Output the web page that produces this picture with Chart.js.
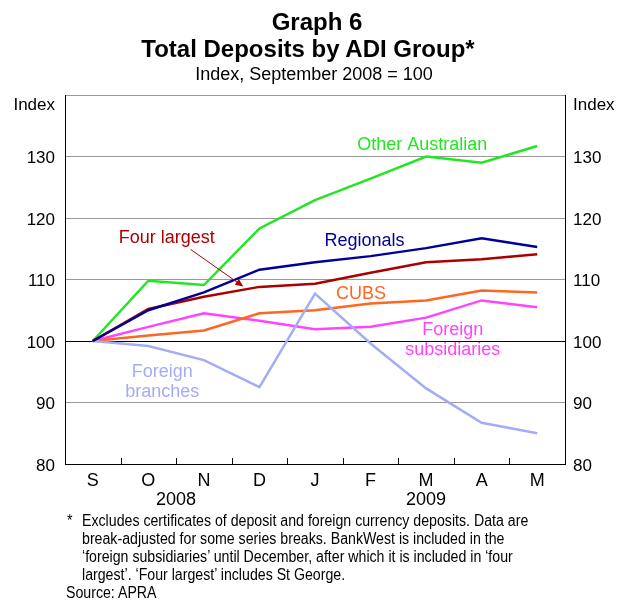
<!DOCTYPE html>
<html>
<head>
<meta charset="utf-8">
<script src="https://cdn.jsdelivr.net/npm/chart.js@4.4.1/dist/chart.umd.min.js"></script>
<style>
  html, body { margin: 0; padding: 0; background: #fff; }
  #wrap { position: relative; width: 624px; height: 600px; overflow: hidden;
          font-family: "Liberation Sans", Arial, sans-serif; color: #000; }
  #chart { position: absolute; left: 0; top: 0; }
  .t { position: absolute; white-space: nowrap; }
  .title { font-size: 24px; font-weight: bold; line-height: 24px; width: 400px; text-align: center; }
  .sub { font-size: 18px; line-height: 18px; width: 400px; text-align: center; }
  .note { font-size: 16px; line-height: 18px; transform: scaleX(0.885); transform-origin: left top; }
</style>
</head>
<body>
<div id="wrap">
  <canvas id="chart" width="624" height="600"></canvas>
  <div class="t title" style="left:117px; top:10px;">Graph 6</div>
  <div class="t title" style="left:108px; top:37px;">Total Deposits by ADI Group*</div>
  <div class="t sub" style="left:114px; top:65px;">Index, September 2008 = 100</div>
  <div class="t note" style="left:67px; top:512px;">*</div>
  <div class="t note" style="left:82px; top:512px;">Excludes certificates of deposit and foreign currency deposits. Data are<br>break-adjusted for some series breaks. BankWest is included in the<br>‘foreign subsidiaries’ until December, after which it is included in ‘four<br>largest’. ‘Four largest’ includes St George.</div>
  <div class="t note" style="left:66px; top:584px;">Source: APRA</div>
</div>
<script>
// Index, September 2008 = 100
const months = ['S', 'O', 'N', 'D', 'J', 'F', 'M', 'A', 'M'];
const years = ['2008', '2009'];
const yTicks = [80, 90, 100, 110, 120, 130];

const otherAustralian = [100, 109.8, 109.1, 118.3, 122.9, 126.4, 130.0, 129.0, 131.7];
const regionals = [100, 105.0, 107.9, 111.6, 112.8, 113.8, 115.1, 116.7, 115.3];
const fourLargest = [100, 105.2, 107.2, 108.8, 109.3, 111.1, 112.8, 113.3, 114.1];
const cubs = [100, 100.9, 101.7, 104.5, 105.0, 106.1, 106.6, 108.2, 107.9];
const foreignSubsidiaries = [100, 102.3, 104.5, 103.3, 101.9, 102.3, 103.8, 106.6, 105.5];
const foreignBranches = [100, 99.2, 96.9, 92.5, 107.7, 99.6, 92.3, 86.7, 85.0];

const GREEN = '#22e622', NAVY = '#000099', DARKRED = '#aa0000',
      ORANGE = '#ff6622', MAGENTA = '#ff44ff', LAVENDER = '#a4acf6';

// label spots in chart units: x = category index, y = index value (baseline)
const seriesLabels = [
  { text: ['Other Australian'], x: 5.93, y: 131.05, color: GREEN },
  { text: ['Regionals'], x: 4.89, y: 115.45, color: NAVY },
  { text: ['Four largest'], x: 1.33, y: 115.9, color: DARKRED },
  { text: ['CUBS'], x: 4.83, y: 106.8, color: ORANGE },
  { text: ['Foreign', 'subsidiaries'], x: 6.48, y: 100.98, color: MAGENTA },
  { text: ['Foreign', 'branches'], x: 1.25, y: 94.15, color: LAVENDER }
];
const arrow = { from: [1.76, 114.9], to: [2.71, 108.85], color: DARKRED };

function line(label, data, color) {
  return { label: label, data: data, borderColor: color, backgroundColor: color,
           borderWidth: 2.5, pointRadius: 0, tension: 0, fill: false };
}

const extras = {
  id: 'extras',
  afterDatasetsDraw(chart) {
    const { ctx, chartArea, scales } = chart;
    const x = scales.x, y = scales.y;
    ctx.save();

    // inward ticks between months
    ctx.strokeStyle = '#000';
    ctx.lineWidth = 1;
    for (let i = 0; i < months.length - 1; i++) {
      const px = Math.round(x.getPixelForValue(i + 0.5)) + 0.5;
      ctx.beginPath();
      ctx.moveTo(px, chartArea.bottom);
      ctx.lineTo(px, chartArea.bottom - 6);
      ctx.stroke();
    }

    // series labels
    ctx.font = '18px "Liberation Sans", Arial, sans-serif';
    ctx.textAlign = 'center';
    ctx.textBaseline = 'alphabetic';
    seriesLabels.forEach(l => {
      ctx.fillStyle = l.color;
      const px = x.getPixelForValue(l.x);
      const py = y.getPixelForValue(l.y);
      l.text.forEach((t, k) => ctx.fillText(t, px, py + k * 20.5));
    });

    // arrow for four largest
    const x1 = x.getPixelForValue(arrow.from[0]), y1 = y.getPixelForValue(arrow.from[1]);
    const x2 = x.getPixelForValue(arrow.to[0]), y2 = y.getPixelForValue(arrow.to[1]);
    const ang = Math.atan2(y2 - y1, x2 - x1);
    ctx.strokeStyle = arrow.color;
    ctx.fillStyle = arrow.color;
    ctx.lineWidth = 1;
    ctx.beginPath();
    ctx.moveTo(x1, y1);
    ctx.lineTo(x2 - 6 * Math.cos(ang), y2 - 6 * Math.sin(ang));
    ctx.stroke();
    ctx.beginPath();
    ctx.moveTo(x2, y2);
    ctx.lineTo(x2 - 8 * Math.cos(ang) + 3.5 * Math.sin(ang), y2 - 8 * Math.sin(ang) - 3.5 * Math.cos(ang));
    ctx.lineTo(x2 - 8 * Math.cos(ang) - 3.5 * Math.sin(ang), y2 - 8 * Math.sin(ang) + 3.5 * Math.cos(ang));
    ctx.closePath();
    ctx.fill();

    // axis unit labels and years
    ctx.fillStyle = '#000';
    ctx.font = '17px "Liberation Sans", Arial, sans-serif';
    ctx.textAlign = 'right';
    ctx.fillText('Index', chartArea.left - 10, chartArea.top + 15);
    ctx.textAlign = 'left';
    ctx.fillText('Index', chartArea.right + 8, chartArea.top + 15);
    ctx.font = '18px "Liberation Sans", Arial, sans-serif';
    ctx.textAlign = 'center';
    ctx.fillText(years[0], x.getPixelForValue(1.5), chartArea.bottom + 41);
    ctx.fillText(years[1], x.getPixelForValue(6), chartArea.bottom + 41);
    ctx.restore();
  }
};

const tickFont = { family: '"Liberation Sans", Arial, sans-serif', size: 17 };
function yLabel(v) { return yTicks.includes(v) ? v : ''; }

new Chart(document.getElementById('chart').getContext('2d'), {
  type: 'line',
  data: {
    labels: months,
    datasets: [
      line('Regionals', regionals, NAVY),
      line('Four largest', fourLargest, DARKRED),
      line('Other Australian', otherAustralian, GREEN),
      line('Foreign branches', foreignBranches, LAVENDER),
      line('CUBS', cubs, ORANGE),
      line('Foreign subsidiaries', foreignSubsidiaries, MAGENTA)
    ]
  },
  options: {
    responsive: false,
    animation: false,
    events: [],
    layout: { padding: { top: 95, left: 0, right: 0, bottom: 0 } },
    plugins: { legend: { display: false }, title: { display: false }, tooltip: { enabled: false } },
    scales: {
      x: {
        offset: true,
        grid: { display: false, drawTicks: false },
        border: { display: true, color: '#000', width: 1 },
        ticks: { color: '#000', font: { family: tickFont.family, size: 18 }, padding: 6,
                 maxRotation: 0, autoSkip: false },
        afterFit(scale) { scale.height = 136; }
      },
      y: {
        position: 'left', min: 80, max: 140,
        grid: {
          drawTicks: false,
          color: c => c.tick.value === 100 || c.tick.value === 80 ? '#000' : '#999',
          lineWidth: 1
        },
        border: { display: true, color: '#000', width: 1 },
        ticks: { stepSize: 10, color: '#000', font: tickFont, padding: 10, labelOffset: 2, callback: yLabel },
        afterFit(scale) { scale.width = 65; }
      },
      y2: {
        position: 'right', min: 80, max: 140,
        grid: { drawOnChartArea: false, drawTicks: false },
        border: { display: true, color: '#000', width: 1 },
        ticks: { stepSize: 10, color: '#000', font: tickFont, padding: 8, labelOffset: 2, callback: yLabel },
        afterFit(scale) { scale.width = 59; }
      }
    }
  },
  plugins: [extras]
});
</script>
</body>
</html>
